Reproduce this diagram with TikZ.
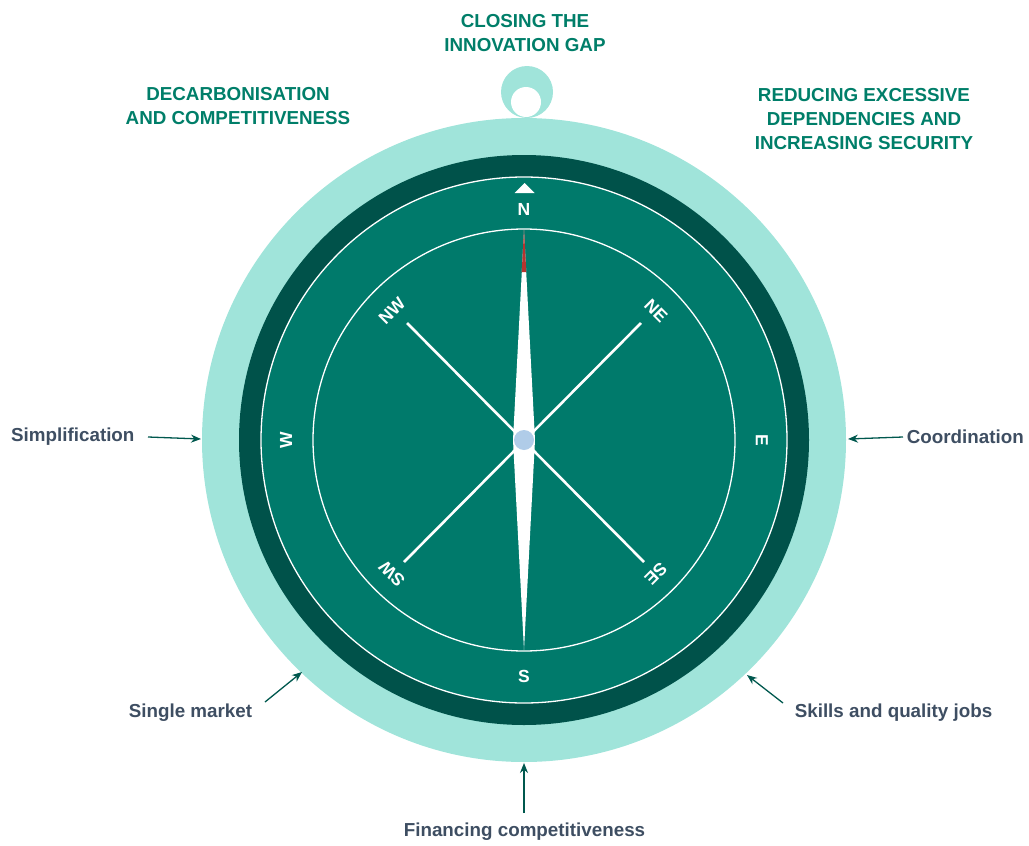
\documentclass[tikz,border=0pt]{standalone}
\usepackage{fontspec}
\setmainfont{Liberation Sans}
\usetikzlibrary{arrows.meta,calc}
\definecolor{lightring}{HTML}{A0E4DA}
\definecolor{darkring}{HTML}{00524A}
\definecolor{faceteal}{HTML}{007A6B}
\definecolor{titlecol}{HTML}{007E69}
\definecolor{labelcol}{HTML}{3E4E62}
\definecolor{arrowcol}{HTML}{00584E}
\definecolor{hubcol}{HTML}{B0CCE8}
\definecolor{needlered}{HTML}{B5342F}
\tikzset{
  titletext/.style={font=\fontsize{18.8}{24}\selectfont\bfseries, text=titlecol, align=center, inner sep=0pt},
  labeltext/.style={font=\fontsize{18.8}{22}\selectfont\bfseries, text=labelcol, inner sep=0pt},
  dirtext/.style={font=\fontsize{17.5}{19}\selectfont\bfseries, text=white, inner sep=0pt},
  arr/.style={draw=arrowcol, line width=1.3pt, -{Stealth[length=10pt,width=8pt]}},
  spoke/.style={draw=white, line width=2.6pt}
}
\begin{document}
\begin{tikzpicture}[x=1pt,y=-1pt]
\useasboundingbox (0,0) rectangle (1029,846);
% handle
\fill[lightring] (527,92) circle[radius=26pt];
\fill[white] (526,102) circle[radius=15pt];
% rings
\coordinate (c) at (524,440);
\fill[lightring] (c) circle[radius=322pt];
\fill[darkring] (c) circle[radius=285pt];
\fill[faceteal] (c) circle[radius=263pt];
\draw[white, line width=1.3pt] (c) circle[radius=263pt];
\draw[white, line width=1.3pt] (c) circle[radius=211pt];
% north marker
\fill[white] (514.5,193) -- (524.5,183) -- (534.5,193) -- cycle;
% direction labels
\node[dirtext] (nN) at (524,209) {N};
\node[dirtext] (nS) at (524,676) {S};
\node[dirtext, rotate=-90] (nE) at (762,440) {E};
\node[dirtext, rotate=90] (nW) at (286,440) {W};
\node[dirtext, rotate=45] (nNW) at ($(c)+(-132,-129)$) {NW};
\node[dirtext, rotate=-45] (nNE) at ($(c)+(132,-129)$) {NE};
\node[dirtext, rotate=135] (nSW) at ($(c)+(-132,134)$) {SW};
\node[dirtext, rotate=-135] (nSE) at ($(c)+(132,134)$) {SE};
% spokes
\draw[spoke] ($(c)+(-117,-117)$) -- ($(c)+(120,122)$);
\draw[spoke] ($(c)+(117,-117)$) -- ($(c)+(-120,122)$);
% needle
\fill[white] (524,230) -- (535,440) -- (524,650) -- (513,440) -- cycle;
\fill[needlered] (524,230) -- (526.3,272) -- (521.7,272) -- cycle;
\fill[hubcol] (c) circle[radius=10pt];
% titles
\node[titletext] (tTop) at (525,33) {CLOSING THE\\INNOVATION GAP};
\node[titletext] (tLeft) at (238,106.5) {DECARBONISATION\\AND COMPETITIVENESS};
\node[titletext] (tRight) at (864,119) {REDUCING EXCESSIVE\\DEPENDENCIES AND\\INCREASING SECURITY};
% labels and arrows
\node[labeltext, anchor=west] (lSimp) at (11,437) {Simplification};
\node[labeltext, anchor=east] (lCoord) at (1024,437) {Coordination};
\node[labeltext] (lSingle) at (190.5,713) {Single market};
\node[labeltext] (lSkills) at (893.5,713) {Skills and quality jobs};
\node[labeltext] (lFin) at (524.5,832) {Financing competitiveness};
\coordinate (sSimp) at (148,437);
\coordinate (eSimp) at (201,439);
\coordinate (sCoord) at (903,437);
\coordinate (eCoord) at (848,439);
\coordinate (sSingle) at (265,702);
\coordinate (eSingle) at (302,672);
\coordinate (sSkills) at (783,703);
\coordinate (eSkills) at (747,675);
\coordinate (sFin) at (524,813);
\coordinate (eFin) at (524,763);
\draw[arr] (sSimp) -- (eSimp);
\draw[arr] (sCoord) -- (eCoord);
\draw[arr] (sSingle) -- (eSingle);
\draw[arr] (sSkills) -- (eSkills);
\draw[arr] (sFin) -- (eFin);
\end{tikzpicture}
\end{document}
